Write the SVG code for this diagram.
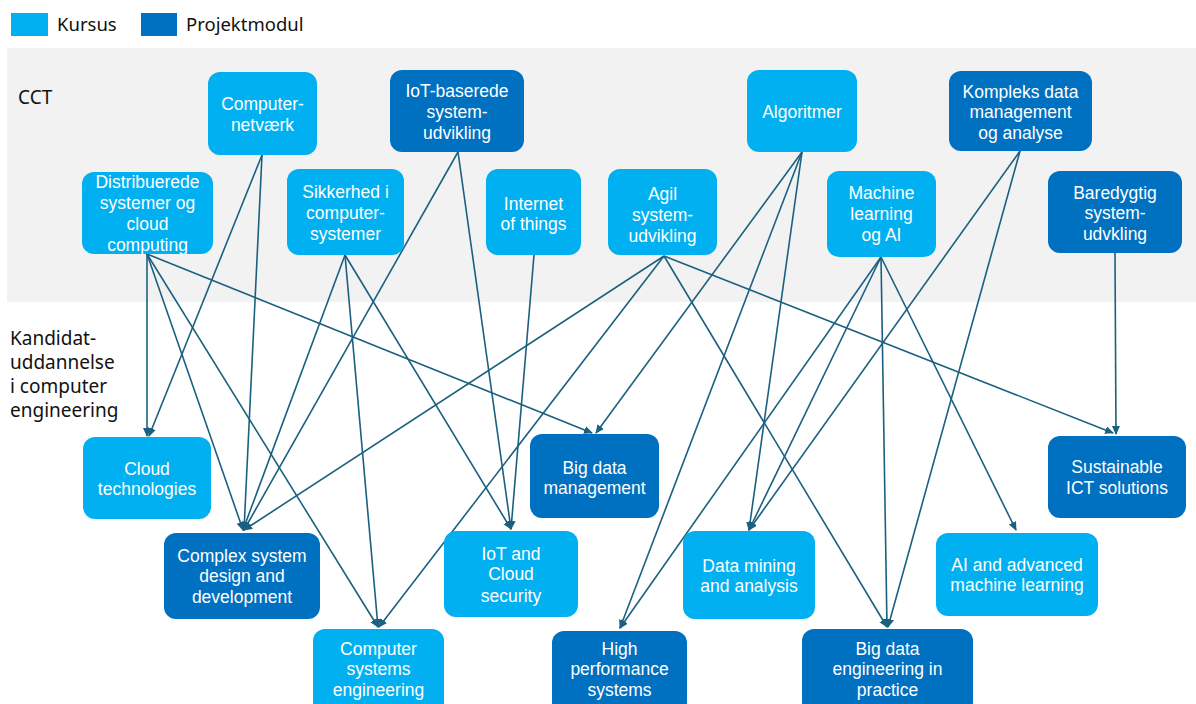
<svg xmlns="http://www.w3.org/2000/svg" width="1196" height="704" viewBox="0 0 1196 704">
<style>
.k{fill:#00b0f0}
.p{fill:#0070c0}
.t{font-family:"Liberation Sans",Arial,sans-serif;font-size:17.5px;fill:#fff;text-anchor:middle}
.lg{font-family:"Noto Sans","Liberation Sans",sans-serif;font-size:18.5px;fill:#111}
.c line{stroke:#1b6080;stroke-width:1.6;marker-end:url(#ah)}
</style>
<defs>
<marker id="ah" markerWidth="10" markerHeight="10" refX="8" refY="4" orient="auto" markerUnits="userSpaceOnUse">
<path d="M0,0 L9,4 L0,8 Z" fill="#1b6080"/>
</marker>
</defs>
<rect width="1196" height="704" fill="#fff"/>
<rect x="7" y="48" width="1189" height="254" fill="#f2f2f2"/>
<g id="legend">
<rect x="11" y="13" width="37" height="23" class="k"/>
<text x="57" y="31" class="lg">Kursus</text>
<rect x="141" y="13" width="36" height="23" class="p"/>
<text x="186" y="31" class="lg">Projektmodul</text>
</g>
<text x="18" y="104" class="lg" style="font-size:19px">CCT</text>
<text class="lg" style="font-size:19px"><tspan x="10" y="345">Kandidat-</tspan><tspan x="10" y="369">uddannelse</tspan><tspan x="10" y="393">i computer</tspan><tspan x="10" y="417">engineering</tspan></text>

<g class="c" id="connectors">
<line x1="262" y1="155" x2="149" y2="436"/>
<line x1="262" y1="155" x2="244" y2="530"/>
<line x1="458" y1="152" x2="244" y2="530"/>
<line x1="458" y1="152" x2="511" y2="529"/>
<line x1="147" y1="254" x2="147" y2="436"/>
<line x1="147" y1="254" x2="243" y2="530"/>
<line x1="147" y1="254" x2="378" y2="627"/>
<line x1="147" y1="254" x2="592" y2="433"/>
<line x1="345" y1="255" x2="243" y2="530"/>
<line x1="345" y1="255" x2="378" y2="627"/>
<line x1="345" y1="255" x2="511" y2="529"/>
<line x1="534" y1="255" x2="511" y2="529"/>
<line x1="664" y1="256" x2="244" y2="530"/>
<line x1="664" y1="256" x2="379" y2="627"/>
<line x1="664" y1="256" x2="887" y2="627"/>
<line x1="664" y1="256" x2="1113" y2="433"/>
<line x1="802" y1="152" x2="596" y2="433"/>
<line x1="802" y1="152" x2="620" y2="628"/>
<line x1="802" y1="152" x2="749" y2="530"/>
<line x1="1020" y1="151" x2="749" y2="530"/>
<line x1="1020" y1="151" x2="888" y2="627"/>
<line x1="881" y1="257" x2="749" y2="530"/>
<line x1="881" y1="257" x2="620" y2="628"/>
<line x1="881" y1="257" x2="887" y2="627"/>
<line x1="881" y1="257" x2="1016" y2="530"/>
<line x1="1115" y1="253" x2="1116" y2="434"/>
</g>

<g id="n-computernetvaerk"><rect x="208" y="72" width="109" height="83" rx="12" class="k"/><text class="t"><tspan x="262.5" y="110">Computer-</tspan><tspan x="262.5" y="131">netværk</tspan></text></g>
<g id="n-iotbaserede"><rect x="390" y="70" width="134" height="82" rx="12" class="p"/><text class="t"><tspan x="457" y="97">IoT-baserede</tspan><tspan x="457" y="118">system-</tspan><tspan x="457" y="139">udvikling</tspan></text></g>
<g id="n-algoritmer"><rect x="747" y="70" width="110" height="82" rx="12" class="k"/><text class="t"><tspan x="802" y="118">Algoritmer</tspan></text></g>
<g id="n-kompleks"><rect x="949" y="71" width="143" height="80" rx="12" class="p"/><text class="t"><tspan x="1020.5" y="98">Kompleks data</tspan><tspan x="1020.5" y="118">management</tspan><tspan x="1020.5" y="139">og analyse</tspan></text></g>
<g id="n-distribuerede"><rect x="82" y="172" width="131" height="82" rx="12" class="k"/><text class="t"><tspan x="147.5" y="188">Distribuerede</tspan><tspan x="147.5" y="209">systemer og</tspan><tspan x="147.5" y="230">cloud</tspan><tspan x="147.5" y="251">computing</tspan></text></g>
<g id="n-sikkerhed"><rect x="287" y="169" width="117" height="86" rx="12" class="k"/><text class="t"><tspan x="345.5" y="198">Sikkerhed i</tspan><tspan x="345.5" y="219">computer-</tspan><tspan x="345.5" y="240">systemer</tspan></text></g>
<g id="n-internetofthings"><rect x="486" y="169" width="95" height="86" rx="12" class="k"/><text class="t"><tspan x="533.5" y="210">Internet</tspan><tspan x="533.5" y="230">of things</tspan></text></g>
<g id="n-agil"><rect x="608" y="169" width="109" height="86" rx="12" class="k"/><text class="t"><tspan x="662.5" y="200">Agil</tspan><tspan x="662.5" y="221">system-</tspan><tspan x="662.5" y="242">udvikling</tspan></text></g>
<g id="n-machinelearning"><rect x="827" y="171" width="109" height="86" rx="12" class="k"/><text class="t"><tspan x="881.5" y="199">Machine</tspan><tspan x="881.5" y="220">learning</tspan><tspan x="881.5" y="241">og AI</tspan></text></g>
<g id="n-baredygtig"><rect x="1048" y="171" width="134" height="82" rx="12" class="p"/><text class="t"><tspan x="1115" y="199">Baredygtig</tspan><tspan x="1115" y="219">system-</tspan><tspan x="1115" y="240">udvkling</tspan></text></g>

<g id="n-cloudtech"><rect x="83" y="437" width="128" height="82" rx="12" class="k"/><text class="t"><tspan x="147" y="475">Cloud</tspan><tspan x="147" y="495">technologies</tspan></text></g>
<g id="n-bigdatamgmt"><rect x="530" y="434" width="129" height="84" rx="12" class="p"/><text class="t"><tspan x="594.5" y="474">Big data</tspan><tspan x="594.5" y="494">management</tspan></text></g>
<g id="n-sustainable"><rect x="1048" y="436" width="138" height="82" rx="12" class="p"/><text class="t"><tspan x="1117" y="473">Sustainable</tspan><tspan x="1117" y="494">ICT solutions</tspan></text></g>
<g id="n-complex"><rect x="164" y="533" width="156" height="86" rx="12" class="p"/><text class="t"><tspan x="242" y="562">Complex system</tspan><tspan x="242" y="582">design and</tspan><tspan x="242" y="603">development</tspan></text></g>
<g id="n-iotsecurity"><rect x="444" y="531" width="134" height="86" rx="12" class="k"/><text class="t"><tspan x="511" y="560">IoT and</tspan><tspan x="511" y="580">Cloud</tspan><tspan x="511" y="602">security</tspan></text></g>
<g id="n-datamining"><rect x="683" y="531" width="132" height="88" rx="12" class="k"/><text class="t"><tspan x="749" y="572">Data mining</tspan><tspan x="749" y="592">and analysis</tspan></text></g>
<g id="n-aiadvanced"><rect x="936" y="533" width="162" height="83" rx="12" class="k"/><text class="t"><tspan x="1017" y="571">AI and advanced</tspan><tspan x="1017" y="591">machine learning</tspan></text></g>
<g id="n-cse"><rect x="313" y="629" width="131" height="85" rx="12" class="k"/><text class="t"><tspan x="378.5" y="655">Computer</tspan><tspan x="378.5" y="675">systems</tspan><tspan x="378.5" y="696">engineering</tspan></text></g>
<g id="n-hps"><rect x="552" y="631" width="135" height="83" rx="12" class="p"/><text class="t"><tspan x="619.5" y="655">High</tspan><tspan x="619.5" y="675">performance</tspan><tspan x="619.5" y="696">systems</tspan></text></g>
<g id="n-bde"><rect x="802" y="629" width="171" height="85" rx="12" class="p"/><text class="t"><tspan x="887.5" y="655">Big data</tspan><tspan x="887.5" y="675">engineering in</tspan><tspan x="887.5" y="696">practice</tspan></text></g>
</svg>
